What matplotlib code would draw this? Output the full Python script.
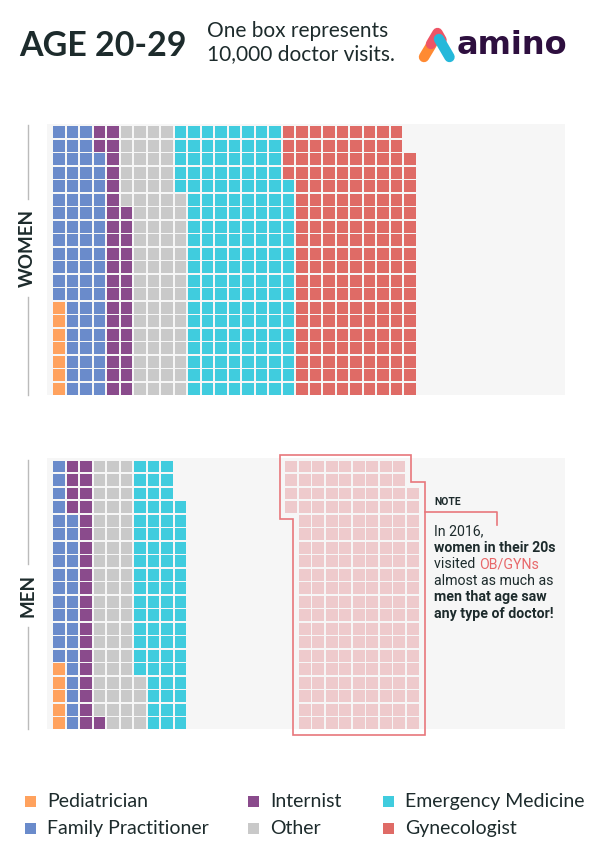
import matplotlib
matplotlib.use('Agg')
import matplotlib.pyplot as plt
import numpy as np
from matplotlib.patches import Polygon

# ---------------- data ----------------
categories = ['Pediatrician', 'Family Practitioner', 'Internist',
              'Other', 'Emergency Medicine', 'Gynecologist']
women_boxes = [7, 71, 36, 81, 161, 182]
men_boxes = [5, 31, 25, 63, 73, 0]
colors = ['#FFA25E', '#6A8BCB', '#8A4B8C', '#C9C9C9', '#40CCDE', '#DF6B66']
ghost_color = '#EECACC'
title = 'AGE 20-29'
subtitle = ['One box represents', '10,000 doctor visits.']
note_lines = [('In 2016,', 'normal'), ('women in their 20s', 'bold'),
              ('visited ', 'normal'), ('almost as much as', 'normal'),
              ('men that age saw', 'bold'), ('any type of doctor!', 'bold')]
note_highlight = 'OB/GYNs'

ROWS = 20
S = 0.86          # box size in cell units
PITCH = 13.5      # px per cell
DARK = '#1D2B2C'

fig = plt.figure(figsize=(6, 8.55), dpi=100)
W, H = 600, 855


def panel_axes(left, top, right, bottom):
    return fig.add_axes([left / W, 1 - bottom / H, (right - left) / W, (bottom - top) / H])


def cells(start, count):
    idx = np.arange(start, start + count)
    return idx // ROWS, idx % ROWS


def setup(ax, left_px, right_px, ylim):
    x0 = 53.3
    ax.set_xlim((left_px - x0) / PITCH, (right_px - x0) / PITCH)
    ax.set_ylim(*ylim)
    ax.set_facecolor('#F6F6F6')
    for s in ax.spines.values():
        s.set_visible(False)
    ax.set_xticks([])
    ax.set_yticks([])


def draw_waffle(ax, counts, shift=0.0, color_list=colors):
    start = 0
    for n, c in zip(counts, color_list):
        if n > 0:
            cx, cy = cells(start, n)
            ax.bar(cx + shift, S, bottom=cy, width=S, align='edge', color=c, linewidth=0)
        start += n


# women panel
axw = panel_axes(47, 124, 565, 395)
setup(axw, 47, 565, (-0.037, (395 - 124) / PITCH - 0.037))
draw_waffle(axw, women_boxes)

# men panel
axm = panel_axes(47, 458, 565, 729)
setup(axm, 47, 565, (0, (729 - 458) / PITCH))
draw_waffle(axm, men_boxes)

# ghost of women's gynecologist boxes in men's panel
g_start = sum(women_boxes[:5])
g_n = women_boxes[5]
sh = 0.2
cx, cy = cells(g_start, g_n)
axm.bar(cx + sh, S, bottom=cy, width=S, align='edge', color=ghost_color, linewidth=0)

# outline around ghost
o = 0.44
ca, ra = g_start // ROWS, g_start % ROWS
cb, rb = (g_start + g_n - 1) // ROWS, (g_start + g_n - 1) % ROWS
xa, xb = ca + sh, cb + sh
top = ROWS - 1 + S + o
verts = [(xa - o, top), (xb - 1 + S + o, top), (xb - 1 + S + o, rb + S + o),
         (xb + S + o, rb + S + o), (xb + S + o, -o), (xa + 1 - o, -o),
         (xa + 1 - o, ra - o), (xa - o, ra - o)]
axm.add_patch(Polygon(verts, closed=True, fill=False, edgecolor='#E8777C',
                      linewidth=1.2, clip_on=False, zorder=5))
# callout bracket
yc = (729 - 512) / PITCH
axm.plot([xb + S + o, (497 - 53.3) / PITCH, (497 - 53.3) / PITCH],
         [yc, yc, (729 - 525) / PITCH], color='#E8777C', lw=1.2, clip_on=False, zorder=5)

# ---------------- overlay ----------------
ax0 = fig.add_axes([0, 0, 1, 1], zorder=10)
ax0.set_xlim(0, W)
ax0.set_ylim(H, 0)
ax0.axis('off')

ax0.text(19, 46, title, fontsize=24.5, fontweight='bold', family='Lato', color=DARK,
         va='center', ha='left')
ax0.text(207, 31, subtitle[0], fontsize=15, fontweight='normal', family='Lato', color=DARK,
         va='center', ha='left')
ax0.text(207, 54, subtitle[1], fontsize=15, fontweight='normal', family='Lato', color=DARK,
         va='center', ha='left')

# logo
ax0.plot([424, 436], [57, 37], color='#FF8A33', lw=7.5, solid_capstyle='round')
ax0.plot([431, 437.5, 441.5], [44, 33, 40], color='#EE5566', lw=7.5, solid_capstyle='round')
ax0.plot([439, 449.5], [39, 57], color='#25B8DA', lw=7.5, solid_capstyle='round')
ax0.text(457, 45, 'amino', fontsize=23, fontweight='bold', family='DejaVu Sans',
         color='#2E0F3F', va='center', ha='left')

# side labels
fig.canvas.draw()
renderer = fig.canvas.get_renderer()
inv = ax0.transData.inverted()
for label, yc_px, t, b in [('WOMEN', 248, 125, 395), ('MEN', 595, 460, 729)]:
    txt = ax0.text(27.7, yc_px, label, rotation=90, fontsize=13.5, fontweight='bold',
                   family='Lato', color=DARK, ha='center', va='center')
    fig.canvas.draw()
    bb = txt.get_window_extent(renderer)
    ytop = inv.transform((0, bb.y1))[1]
    ybot = inv.transform((0, bb.y0))[1]
    ax0.plot([27.7, 27.7], [t, ytop - 10], color='#BBBBBB', lw=1)
    ax0.plot([27.7, 27.7], [ybot + 10, b], color='#BBBBBB', lw=1)

# note
ax0.text(434, 502, 'NOTE', fontsize=7.5, fontweight='bold', family='Roboto',
         color=DARK, va='center', ha='left')
base = 535
for i, (line, wt) in enumerate(note_lines):
    t = ax0.text(434, base + 16.6 * i, line, fontsize=10.2, fontweight=wt, family='Roboto',
                 color=DARK, va='baseline', ha='left')
    if i == 2:
        fig.canvas.draw()
        bb = t.get_window_extent(renderer)
        x_end = inv.transform((bb.x1, bb.y0))[0]
        ax0.text(x_end, base + 16.6 * i, note_highlight, fontsize=10.2, fontweight='normal',
                 family='Roboto', color='#E8686A', va='baseline', ha='left')

# legend (column-major, 2 rows)
leg_x = [25, 248, 383]
leg_y = [801, 828]
for k, (cat, col) in enumerate(zip(categories, colors)):
    cxp = leg_x[k // 2]
    cyp = leg_y[k % 2]
    ax0.add_patch(plt.Rectangle((cxp, cyp - 5.5), 11, 11, color=col, linewidth=0))
    ax0.text(cxp + 22, cyp, cat, fontsize=14, family='Lato', color=DARK,
             va='center', ha='left')

fig.savefig('out.png', dpi=100)
